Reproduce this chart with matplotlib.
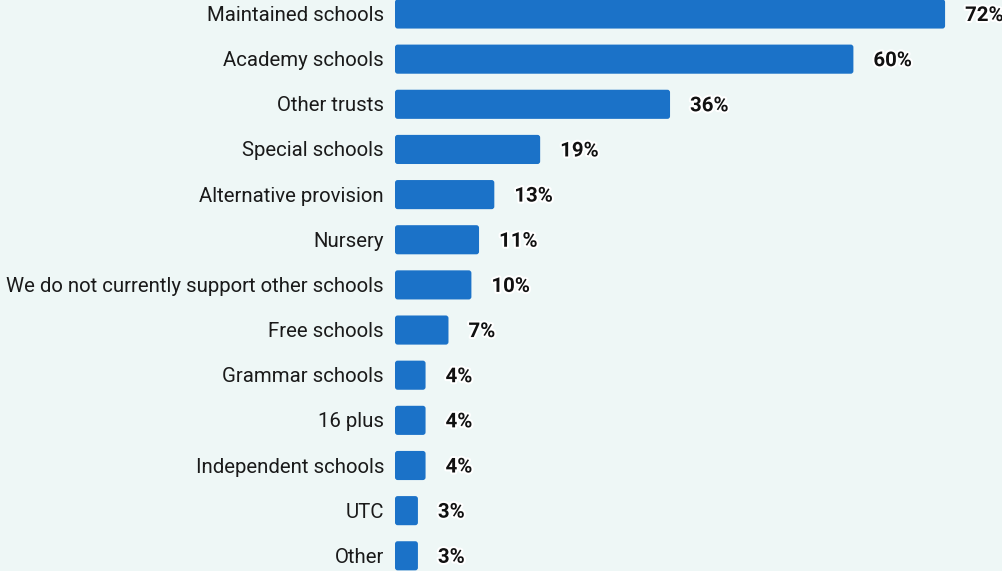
import matplotlib
matplotlib.use("Agg")
import matplotlib.pyplot as plt
from matplotlib.patches import FancyBboxPatch
import matplotlib.patheffects as pe

categories = [
    "Maintained schools", "Academy schools", "Other trusts", "Special schools",
    "Alternative provision", "Nursery", "We do not currently support other schools",
    "Free schools", "Grammar schools", "16 plus", "Independent schools", "UTC", "Other",
]
values = [72, 60, 36, 19, 13, 11, 10, 7, 4, 4, 4, 3, 3]

BG = "#eef7f6"
BAR = "#1b72c8"
W, H = 1003, 571
px_x = 7.64          # pixels per percentage point
px_y = 45.15         # pixels per category row
x0_px = 395
y0_px = 14

fig = plt.figure(figsize=(W / 100, H / 100), dpi=100, facecolor=BG)
ax = fig.add_axes([0, 0, 1, 1])
ax.set_facecolor(BG)
ax.set_xlim(-x0_px / px_x, (W - x0_px) / px_x)
ax.set_ylim((H - y0_px) / px_y, -y0_px / px_y)
ax.axis("off")

bar_h = 0.645
aspect = px_x / px_y
text_dy = 1.5 / px_y
for i, (cat, v) in enumerate(zip(categories, values)):
    patch = FancyBboxPatch(
        (0, i - bar_h / 2), v, bar_h,
        boxstyle="round,pad=0,rounding_size=0.35",
        mutation_aspect=aspect,
        facecolor=BAR, edgecolor="none",
    )
    ax.add_patch(patch)
    ax.text(-11 / px_x, i + text_dy, cat, ha="right", va="center",
            fontsize=14.7, family="Roboto", color="#1a1a1a")
    ax.text(v + 20 / px_x, i + text_dy, f"{v}%", ha="left", va="center",
            fontsize=14.7, family="Roboto", fontweight="bold", color="#111111",
            path_effects=[pe.withStroke(linewidth=3, foreground="white")])

fig.savefig("out.png", dpi=100, facecolor=BG)
